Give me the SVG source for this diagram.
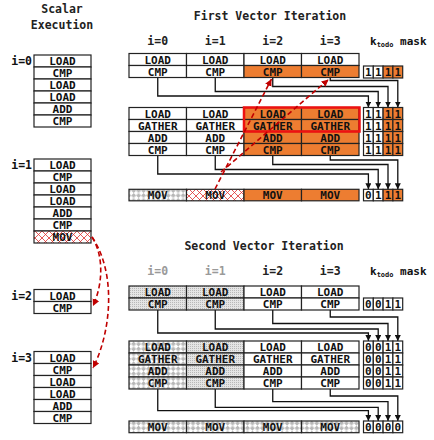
<svg xmlns="http://www.w3.org/2000/svg" width="434" height="440" viewBox="0 0 434 440">
<style>
text{font-family:"DejaVu Sans Mono","Liberation Mono",monospace;font-weight:bold;fill:#111}
.t{font-size:11px;text-anchor:middle}
.h{font-size:11.5px;text-anchor:middle;fill:#222}
.lbl{font-size:11.5px;text-anchor:end}
.m{font-size:11px;text-anchor:middle}
.c{stroke:#222;stroke-width:1.2}
.w{fill:#fff}
.o{fill:#ED7D31}
.k{fill:url(#chk)}
.d{fill:url(#dot)}
.r{fill:url(#redx)}
.gray{fill:#9a9a9a}
.con{fill:none;stroke:#111;stroke-width:1.3;marker-end:url(#ah)}
.rd{fill:none;stroke:#c00000;stroke-width:1.6;stroke-dasharray:5 3;marker-end:url(#rah)}
</style>
<defs>
<pattern id="chk" width="7" height="7" patternUnits="userSpaceOnUse" patternTransform="rotate(45)">
<rect width="7" height="7" fill="#fff"/><rect width="3.5" height="3.5" fill="#b8b8b8"/><rect x="3.5" y="3.5" width="3.5" height="3.5" fill="#b8b8b8"/>
</pattern>
<pattern id="dot" width="2" height="2" patternUnits="userSpaceOnUse">
<rect width="2" height="2" fill="#e4e4e4"/><rect width="1" height="1" fill="#b8b8b8"/>
</pattern>
<pattern id="redx" width="7" height="7" patternUnits="userSpaceOnUse">
<rect width="7" height="7" fill="#fff"/><path d="M0,0L7,7M7,0L0,7" stroke="#e03030" stroke-width="0.8"/>
</pattern>
<marker id="ah" markerUnits="userSpaceOnUse" markerWidth="6" markerHeight="6" refX="6" refY="3" orient="auto"><path d="M0,0L6,3L0,6z" fill="#111"/></marker>
<marker id="rah" markerUnits="userSpaceOnUse" markerWidth="8" markerHeight="8" refX="7" refY="3.5" orient="auto"><path d="M0,0L7,3.5L0,7z" fill="#c00000"/></marker>
</defs>

<!-- titles -->
<g id="titles">
<text class="h" x="62" y="13">Scalar</text>
<text class="h" x="62" y="29">Execution</text>
<text class="h" x="270" y="20">First Vector Iteration</text>
<text class="h" x="264" y="250">Second Vector Iteration</text>
</g>

<!-- scalar execution -->
<g id="scalar-i0">
<text class="lbl" x="32" y="65">i=0</text>
<rect class="c w" x="34" y="55" width="57" height="12"/><text class="t" x="62.5" y="65">LOAD</text>
<rect class="c w" x="34" y="67" width="57" height="12"/><text class="t" x="62.5" y="77">CMP</text>
<rect class="c w" x="34" y="79" width="57" height="12"/><text class="t" x="62.5" y="89">LOAD</text>
<rect class="c w" x="34" y="91" width="57" height="12"/><text class="t" x="62.5" y="101">LOAD</text>
<rect class="c w" x="34" y="103" width="57" height="12"/><text class="t" x="62.5" y="113">ADD</text>
<rect class="c w" x="34" y="115" width="57" height="12"/><text class="t" x="62.5" y="125">CMP</text>
</g>
<g id="scalar-i1">
<text class="lbl" x="32" y="169">i=1</text>
<rect class="c w" x="34" y="159" width="57" height="12"/><text class="t" x="62.5" y="169">LOAD</text>
<rect class="c w" x="34" y="171" width="57" height="12"/><text class="t" x="62.5" y="181">CMP</text>
<rect class="c w" x="34" y="183" width="57" height="12"/><text class="t" x="62.5" y="193">LOAD</text>
<rect class="c w" x="34" y="195" width="57" height="12"/><text class="t" x="62.5" y="205">LOAD</text>
<rect class="c w" x="34" y="207" width="57" height="12"/><text class="t" x="62.5" y="217">ADD</text>
<rect class="c w" x="34" y="219" width="57" height="12"/><text class="t" x="62.5" y="229">CMP</text>
<rect class="c r" x="34" y="231" width="57" height="12"/><text class="t" x="62.5" y="241">MOV</text>
</g>
<g id="scalar-i2">
<text class="lbl" x="32" y="299.5">i=2</text>
<rect class="c w" x="34" y="289.5" width="57" height="12"/><text class="t" x="62.5" y="299.5">LOAD</text>
<rect class="c w" x="34" y="301.5" width="57" height="12"/><text class="t" x="62.5" y="311.5">CMP</text>
</g>
<g id="scalar-i3">
<text class="lbl" x="32" y="361.5">i=3</text>
<rect class="c w" x="34" y="351.5" width="57" height="12"/><text class="t" x="62.5" y="361.5">LOAD</text>
<rect class="c w" x="34" y="363.5" width="57" height="12"/><text class="t" x="62.5" y="373.5">CMP</text>
<rect class="c w" x="34" y="375.5" width="57" height="12"/><text class="t" x="62.5" y="385.5">LOAD</text>
<rect class="c w" x="34" y="387.5" width="57" height="12"/><text class="t" x="62.5" y="397.5">LOAD</text>
<rect class="c w" x="34" y="399.5" width="57" height="12"/><text class="t" x="62.5" y="409.5">ADD</text>
<rect class="c w" x="34" y="411.5" width="57" height="12"/><text class="t" x="62.5" y="421.5">CMP</text>
</g>

<!-- first vector iteration -->
<g id="v1-labels">
<text class="h" x="157.75" y="45">i=0</text>
<text class="h" x="215.25" y="45">i=1</text>
<text class="h" x="272.75" y="45">i=2</text>
<text class="h" x="330.25" y="45">i=3</text>
<text style="font-size:11px" x="370" y="45">k<tspan style="font-size:7px" dy="1.5">todo</tspan><tspan dy="-1.5"> mask</tspan></text>
</g>

<!-- connectors -->
<g id="connectors">
<path class="con" d="M157.75,77.5V96H368.4V107.5"/>
<path class="con" d="M215.25,77.5V91.5H378.2V107.5"/>
<path class="con" d="M272.75,77.5V86.5H388V107.5"/>
<path class="con" d="M330.25,77.5V80.5H397.8V107.5"/>
<path class="con" d="M157.75,155.5V174H368.4V189.3"/>
<path class="con" d="M215.25,155.5V169.5H378.2V189.3"/>
<path class="con" d="M272.75,155.5V164.5H388V189.3"/>
<path class="con" d="M330.25,155.5V160H397.8V189.3"/>
<path class="con" d="M157.75,310V333H368.4V341"/>
<path class="con" d="M215.25,310V329H378.2V341"/>
<path class="con" d="M272.75,310V323.5H388V341"/>
<path class="con" d="M330.25,310V317H397.8V341"/>
<path class="con" d="M157.75,389V410.7H368.4V421"/>
<path class="con" d="M215.25,389V407.3H378.2V421"/>
<path class="con" d="M272.75,389V401.7H388V421"/>
<path class="con" d="M330.25,389V396H397.8V421"/>
</g>

<g id="v1-head">
<rect class="c w" x="129" y="53.5" width="57.5" height="12"/><text class="t" x="157.75" y="63.5">LOAD</text>
<rect class="c w" x="186.5" y="53.5" width="57.5" height="12"/><text class="t" x="215.25" y="63.5">LOAD</text>
<rect class="c w" x="244" y="53.5" width="57.5" height="12"/><text class="t" x="272.75" y="63.5">LOAD</text>
<rect class="c w" x="301.5" y="53.5" width="57.5" height="12"/><text class="t" x="330.25" y="63.5">LOAD</text>
<rect class="c w" x="129" y="65.5" width="57.5" height="12"/><text class="t" x="157.75" y="75.5">CMP</text>
<rect class="c w" x="186.5" y="65.5" width="57.5" height="12"/><text class="t" x="215.25" y="75.5">CMP</text>
<rect class="c o" x="244" y="65.5" width="57.5" height="12"/><text class="t" x="272.75" y="75.5">CMP</text>
<rect class="c o" x="301.5" y="65.5" width="57.5" height="12"/><text class="t" x="330.25" y="75.5">CMP</text>
</g>
<g id="v1-mask-head">
<rect class="c w" x="363.5" y="66" width="9.8" height="12"/><text class="m" x="368.4" y="76">1</text>
<rect class="c w" x="373.3" y="66" width="9.8" height="12"/><text class="m" x="378.2" y="76">1</text>
<rect class="c o" x="383.1" y="66" width="9.8" height="12"/><text class="m" x="388" y="76">1</text>
<rect class="c o" x="392.9" y="66" width="9.8" height="12"/><text class="m" x="397.8" y="76">1</text>
</g>

<g id="v1-block">
<rect class="c w" x="129" y="107.5" width="57.5" height="12"/><text class="t" x="157.75" y="117.5">LOAD</text>
<rect class="c w" x="186.5" y="107.5" width="57.5" height="12"/><text class="t" x="215.25" y="117.5">LOAD</text>
<rect class="c o" x="244" y="107.5" width="57.5" height="12"/><text class="t" x="272.75" y="117.5">LOAD</text>
<rect class="c o" x="301.5" y="107.5" width="57.5" height="12"/><text class="t" x="330.25" y="117.5">LOAD</text>
<rect class="c w" x="129" y="119.5" width="57.5" height="12"/><text class="t" x="157.75" y="129.5">GATHER</text>
<rect class="c w" x="186.5" y="119.5" width="57.5" height="12"/><text class="t" x="215.25" y="129.5">GATHER</text>
<rect class="c o" x="244" y="119.5" width="57.5" height="12"/><text class="t" x="272.75" y="129.5">GATHER</text>
<rect class="c o" x="301.5" y="119.5" width="57.5" height="12"/><text class="t" x="330.25" y="129.5">GATHER</text>
<rect class="c w" x="129" y="131.5" width="57.5" height="12"/><text class="t" x="157.75" y="141.5">ADD</text>
<rect class="c w" x="186.5" y="131.5" width="57.5" height="12"/><text class="t" x="215.25" y="141.5">ADD</text>
<rect class="c o" x="244" y="131.5" width="57.5" height="12"/><text class="t" x="272.75" y="141.5">ADD</text>
<rect class="c o" x="301.5" y="131.5" width="57.5" height="12"/><text class="t" x="330.25" y="141.5">ADD</text>
<rect class="c w" x="129" y="143.5" width="57.5" height="12"/><text class="t" x="157.75" y="153.5">CMP</text>
<rect class="c w" x="186.5" y="143.5" width="57.5" height="12"/><text class="t" x="215.25" y="153.5">CMP</text>
<rect class="c o" x="244" y="143.5" width="57.5" height="12"/><text class="t" x="272.75" y="153.5">CMP</text>
<rect class="c o" x="301.5" y="143.5" width="57.5" height="12"/><text class="t" x="330.25" y="153.5">CMP</text>
<rect x="244" y="107.5" width="115.5" height="24" fill="none" stroke="#ee1111" stroke-width="2.5"/>
</g>
<g id="v1-mask-block">
<rect class="c w" x="363.5" y="107.5" width="9.8" height="12"/><text class="m" x="368.4" y="117.5">1</text>
<rect class="c w" x="373.3" y="107.5" width="9.8" height="12"/><text class="m" x="378.2" y="117.5">1</text>
<rect class="c o" x="383.1" y="107.5" width="9.8" height="12"/><text class="m" x="388" y="117.5">1</text>
<rect class="c o" x="392.9" y="107.5" width="9.8" height="12"/><text class="m" x="397.8" y="117.5">1</text>
<rect class="c w" x="363.5" y="119.5" width="9.8" height="12"/><text class="m" x="368.4" y="129.5">1</text>
<rect class="c w" x="373.3" y="119.5" width="9.8" height="12"/><text class="m" x="378.2" y="129.5">1</text>
<rect class="c o" x="383.1" y="119.5" width="9.8" height="12"/><text class="m" x="388" y="129.5">1</text>
<rect class="c o" x="392.9" y="119.5" width="9.8" height="12"/><text class="m" x="397.8" y="129.5">1</text>
<rect class="c w" x="363.5" y="131.5" width="9.8" height="12"/><text class="m" x="368.4" y="141.5">1</text>
<rect class="c w" x="373.3" y="131.5" width="9.8" height="12"/><text class="m" x="378.2" y="141.5">1</text>
<rect class="c o" x="383.1" y="131.5" width="9.8" height="12"/><text class="m" x="388" y="141.5">1</text>
<rect class="c o" x="392.9" y="131.5" width="9.8" height="12"/><text class="m" x="397.8" y="141.5">1</text>
<rect class="c w" x="363.5" y="143.5" width="9.8" height="12"/><text class="m" x="368.4" y="153.5">1</text>
<rect class="c w" x="373.3" y="143.5" width="9.8" height="12"/><text class="m" x="378.2" y="153.5">1</text>
<rect class="c o" x="383.1" y="143.5" width="9.8" height="12"/><text class="m" x="388" y="153.5">1</text>
<rect class="c o" x="392.9" y="143.5" width="9.8" height="12"/><text class="m" x="397.8" y="153.5">1</text>
</g>

<g id="v1-mov">
<rect class="c k" x="129" y="189.3" width="57.5" height="11.5"/><text class="t" x="157.75" y="199">MOV</text>
<rect class="c r" x="186.5" y="189.3" width="57.5" height="11.5"/><text class="t" x="215.25" y="199">MOV</text>
<rect class="c o" x="244" y="189.3" width="57.5" height="11.5"/><text class="t" x="272.75" y="199">MOV</text>
<rect class="c o" x="301.5" y="189.3" width="57.5" height="11.5"/><text class="t" x="330.25" y="199">MOV</text>
</g>
<g id="v1-mask-mov">
<rect class="c w" x="363.5" y="189.3" width="9.8" height="11.5"/><text class="m" x="368.4" y="199">0</text>
<rect class="c w" x="373.3" y="189.3" width="9.8" height="11.5"/><text class="m" x="378.2" y="199">1</text>
<rect class="c o" x="383.1" y="189.3" width="9.8" height="11.5"/><text class="m" x="388" y="199">1</text>
<rect class="c o" x="392.9" y="189.3" width="9.8" height="11.5"/><text class="m" x="397.8" y="199">1</text>
</g>

<!-- second vector iteration -->
<g id="v2-labels">
<text class="h gray" x="157.75" y="275">i=0</text>
<text class="h gray" x="215.25" y="275">i=1</text>
<text class="h" x="272.75" y="275">i=2</text>
<text class="h" x="330.25" y="275">i=3</text>
<text style="font-size:11px" x="370" y="275">k<tspan style="font-size:7px" dy="1.5">todo</tspan><tspan dy="-1.5"> mask</tspan></text>
</g>
<g id="v2-head">
<rect class="c d" x="129" y="286" width="57.5" height="12"/><text class="t" x="157.75" y="296">LOAD</text>
<rect class="c d" x="186.5" y="286" width="57.5" height="12"/><text class="t" x="215.25" y="296">LOAD</text>
<rect class="c w" x="244" y="286" width="57.5" height="12"/><text class="t" x="272.75" y="296">LOAD</text>
<rect class="c w" x="301.5" y="286" width="57.5" height="12"/><text class="t" x="330.25" y="296">LOAD</text>
<rect class="c d" x="129" y="298" width="57.5" height="12"/><text class="t" x="157.75" y="308">CMP</text>
<rect class="c d" x="186.5" y="298" width="57.5" height="12"/><text class="t" x="215.25" y="308">CMP</text>
<rect class="c w" x="244" y="298" width="57.5" height="12"/><text class="t" x="272.75" y="308">CMP</text>
<rect class="c w" x="301.5" y="298" width="57.5" height="12"/><text class="t" x="330.25" y="308">CMP</text>
</g>
<g id="v2-mask-head">
<rect class="c w" x="363.5" y="298" width="9.8" height="12"/><text class="m" x="368.4" y="308">0</text>
<rect class="c w" x="373.3" y="298" width="9.8" height="12"/><text class="m" x="378.2" y="308">0</text>
<rect class="c w" x="383.1" y="298" width="9.8" height="12"/><text class="m" x="388" y="308">1</text>
<rect class="c w" x="392.9" y="298" width="9.8" height="12"/><text class="m" x="397.8" y="308">1</text>
</g>
<g id="v2-block">
<rect class="c k" x="129" y="341" width="57.5" height="12"/><text class="t" x="157.75" y="351">LOAD</text>
<rect class="c d" x="186.5" y="341" width="57.5" height="12"/><text class="t" x="215.25" y="351">LOAD</text>
<rect class="c w" x="244" y="341" width="57.5" height="12"/><text class="t" x="272.75" y="351">LOAD</text>
<rect class="c w" x="301.5" y="341" width="57.5" height="12"/><text class="t" x="330.25" y="351">LOAD</text>
<rect class="c k" x="129" y="353" width="57.5" height="12"/><text class="t" x="157.75" y="363">GATHER</text>
<rect class="c d" x="186.5" y="353" width="57.5" height="12"/><text class="t" x="215.25" y="363">GATHER</text>
<rect class="c w" x="244" y="353" width="57.5" height="12"/><text class="t" x="272.75" y="363">GATHER</text>
<rect class="c w" x="301.5" y="353" width="57.5" height="12"/><text class="t" x="330.25" y="363">GATHER</text>
<rect class="c k" x="129" y="365" width="57.5" height="12"/><text class="t" x="157.75" y="375">ADD</text>
<rect class="c d" x="186.5" y="365" width="57.5" height="12"/><text class="t" x="215.25" y="375">ADD</text>
<rect class="c w" x="244" y="365" width="57.5" height="12"/><text class="t" x="272.75" y="375">ADD</text>
<rect class="c w" x="301.5" y="365" width="57.5" height="12"/><text class="t" x="330.25" y="375">ADD</text>
<rect class="c k" x="129" y="377" width="57.5" height="12"/><text class="t" x="157.75" y="387">CMP</text>
<rect class="c d" x="186.5" y="377" width="57.5" height="12"/><text class="t" x="215.25" y="387">CMP</text>
<rect class="c w" x="244" y="377" width="57.5" height="12"/><text class="t" x="272.75" y="387">CMP</text>
<rect class="c w" x="301.5" y="377" width="57.5" height="12"/><text class="t" x="330.25" y="387">CMP</text>
</g>
<g id="v2-mask-block">
<rect class="c w" x="363.5" y="341" width="9.8" height="12"/><text class="m" x="368.4" y="351">0</text>
<rect class="c w" x="373.3" y="341" width="9.8" height="12"/><text class="m" x="378.2" y="351">0</text>
<rect class="c w" x="383.1" y="341" width="9.8" height="12"/><text class="m" x="388" y="351">1</text>
<rect class="c w" x="392.9" y="341" width="9.8" height="12"/><text class="m" x="397.8" y="351">1</text>
<rect class="c w" x="363.5" y="353" width="9.8" height="12"/><text class="m" x="368.4" y="363">0</text>
<rect class="c w" x="373.3" y="353" width="9.8" height="12"/><text class="m" x="378.2" y="363">0</text>
<rect class="c w" x="383.1" y="353" width="9.8" height="12"/><text class="m" x="388" y="363">1</text>
<rect class="c w" x="392.9" y="353" width="9.8" height="12"/><text class="m" x="397.8" y="363">1</text>
<rect class="c w" x="363.5" y="365" width="9.8" height="12"/><text class="m" x="368.4" y="375">0</text>
<rect class="c w" x="373.3" y="365" width="9.8" height="12"/><text class="m" x="378.2" y="375">0</text>
<rect class="c w" x="383.1" y="365" width="9.8" height="12"/><text class="m" x="388" y="375">1</text>
<rect class="c w" x="392.9" y="365" width="9.8" height="12"/><text class="m" x="397.8" y="375">1</text>
<rect class="c w" x="363.5" y="377" width="9.8" height="12"/><text class="m" x="368.4" y="387">0</text>
<rect class="c w" x="373.3" y="377" width="9.8" height="12"/><text class="m" x="378.2" y="387">0</text>
<rect class="c w" x="383.1" y="377" width="9.8" height="12"/><text class="m" x="388" y="387">1</text>
<rect class="c w" x="392.9" y="377" width="9.8" height="12"/><text class="m" x="397.8" y="387">1</text>
</g>
<g id="v2-mov">
<rect class="c k" x="129" y="421" width="57.5" height="11.7"/><text class="t" x="157.75" y="430.8">MOV</text>
<rect class="c k" x="186.5" y="421" width="57.5" height="11.7"/><text class="t" x="215.25" y="430.8">MOV</text>
<rect class="c k" x="244" y="421" width="57.5" height="11.7"/><text class="t" x="272.75" y="430.8">MOV</text>
<rect class="c k" x="301.5" y="421" width="57.5" height="11.7"/><text class="t" x="330.25" y="430.8">MOV</text>
</g>
<g id="v2-mask-mov">
<rect class="c w" x="363.5" y="421" width="9.8" height="11.7"/><text class="m" x="368.4" y="430.8">0</text>
<rect class="c w" x="373.3" y="421" width="9.8" height="11.7"/><text class="m" x="378.2" y="430.8">0</text>
<rect class="c w" x="383.1" y="421" width="9.8" height="11.7"/><text class="m" x="388" y="430.8">0</text>
<rect class="c w" x="392.9" y="421" width="9.8" height="11.7"/><text class="m" x="397.8" y="430.8">0</text>
</g>

<!-- red dependency arrows -->
<g id="dependencies">
<path class="rd" d="M215,189 L271.5,79"/>
<path class="rd" d="M221,172 L328.5,79.5"/>
<path class="rd" d="M92,237 C104,256 103,284 93,306"/>
<path class="rd" d="M92,237 C116,272 112,330 93,368"/>
</g>
</svg>
